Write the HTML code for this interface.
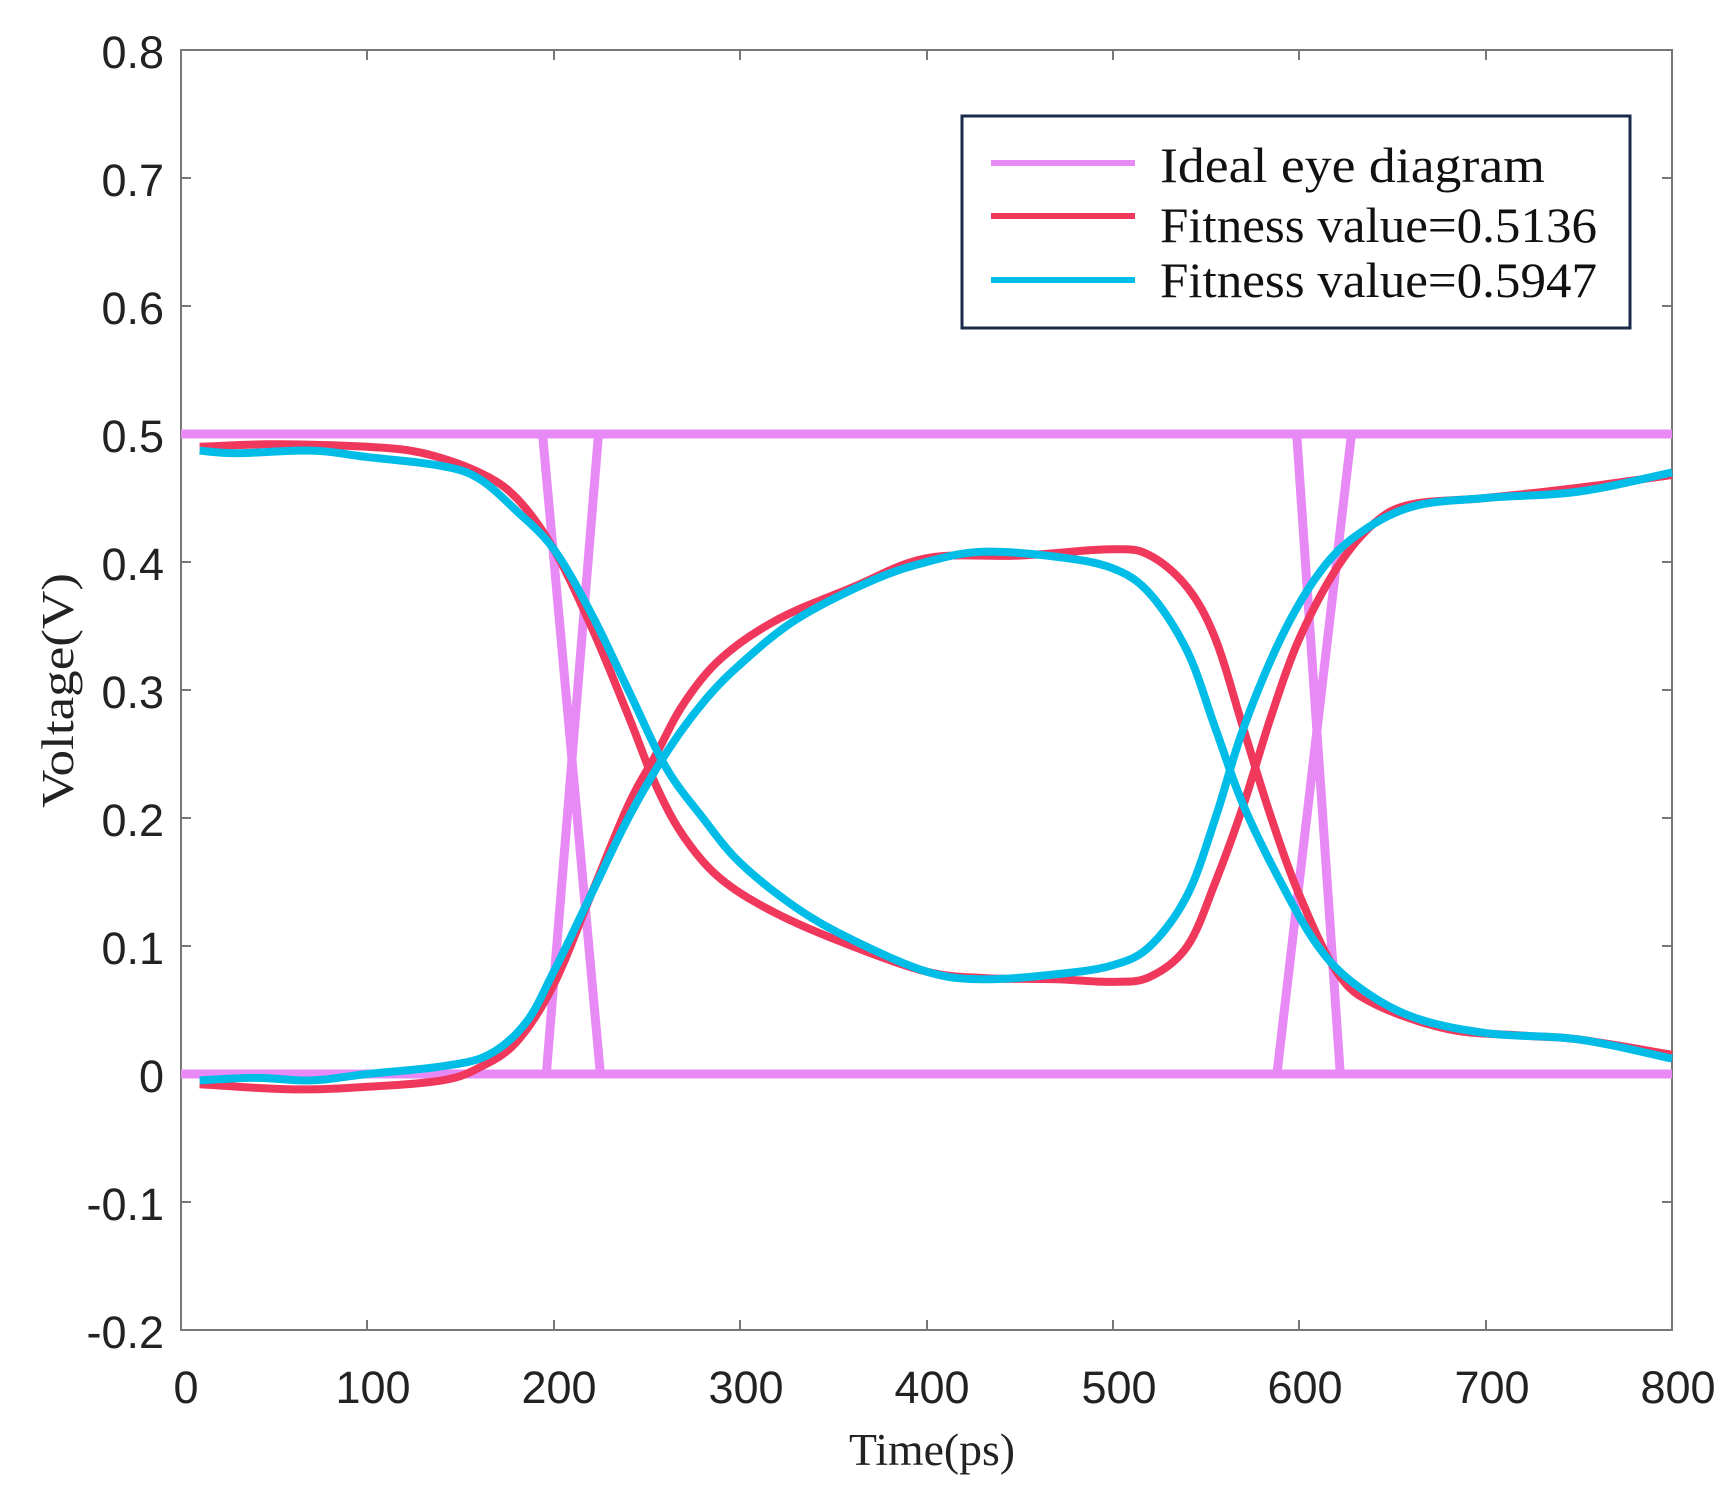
<!DOCTYPE html>
<html><head><meta charset="utf-8"><style>html,body{margin:0;padding:0;background:#fff}svg{display:block}</style></head>
<body>
<svg width="1729" height="1495" viewBox="0 0 1729 1495" xmlns="http://www.w3.org/2000/svg">
<rect width="1729" height="1495" fill="#fff"/>
<g font-family="Liberation Sans, sans-serif" font-size="45" fill="#222" text-anchor="end">
<text x="164" y="68">0.8</text><text x="164" y="196">0.7</text><text x="164" y="324">0.6</text>
<text x="164" y="452">0.5</text><text x="164" y="580">0.4</text><text x="164" y="708">0.3</text>
<text x="164" y="836">0.2</text><text x="164" y="964">0.1</text><text x="164" y="1092">0</text>
<text x="164" y="1220">-0.1</text><text x="164" y="1348">-0.2</text>
</g>
<g font-family="Liberation Sans, sans-serif" font-size="45" fill="#222" text-anchor="middle">
<text x="186" y="1403">0</text><text x="373" y="1403">100</text><text x="559" y="1403">200</text>
<text x="746" y="1403">300</text><text x="932" y="1403">400</text><text x="1119" y="1403">500</text>
<text x="1305" y="1403">600</text><text x="1492" y="1403">700</text><text x="1678" y="1403">800</text>
</g>
<text x="849" y="1465" font-family="Liberation Serif, serif" font-size="45" fill="#222" textLength="166" lengthAdjust="spacingAndGlyphs">Time(ps)</text>
<text transform="translate(73,808) rotate(-90)" font-family="Liberation Serif, serif" font-size="46" fill="#222" textLength="235" lengthAdjust="spacingAndGlyphs">Voltage(V)</text>
<g stroke="#777" stroke-width="2" fill="none">
<rect x="181" y="50" width="1491" height="1280"/>
<path d="M181 178h10M181 306h10M181 434h10M181 562h10M181 690h10M181 818h10M181 946h10M181 1074h10M181 1202h10
M1672 178h-10M1672 306h-10M1672 434h-10M1672 562h-10M1672 690h-10M1672 818h-10M1672 946h-10M1672 1074h-10M1672 1202h-10
M367 1330v-10M554 1330v-10M740 1330v-10M927 1330v-10M1113 1330v-10M1299 1330v-10M1486 1330v-10
M367 50v10M554 50v10M740 50v10M927 50v10M1113 50v10M1299 50v10M1486 50v10"/>
</g>
<g transform="translate(181,1074) scale(1.8638,-1280)" fill="none" stroke-linejoin="round" stroke-linecap="butt">
<g stroke="#e88af6" stroke-width="9">
<path vector-effect="non-scaling-stroke" d="M0 0.5H800M0 0H800M194 0.5L225 0M196 0L224 0.5M598.6 0.5L622 0M588 0L628 0.5"/>
</g>
<g stroke="#f0385c" stroke-width="8">
<polyline class="sm" vector-effect="non-scaling-stroke" points="10,0.49 50,0.492 100,0.49 130,0.485 160,0.47 180,0.45 200,0.41 220,0.35 240,0.28 255,0.225 270,0.185 290,0.152 320,0.125 360,0.1 400,0.08 430,0.075 470,0.074 500,0.072 520,0.076 540,0.1 555,0.15 570,0.21 585,0.28 600,0.34 620,0.395 640,0.43 660,0.445 700,0.45 750,0.458 800,0.468"/>
<polyline class="sm" vector-effect="non-scaling-stroke" points="10,-0.008 60,-0.012 100,-0.01 140,-0.005 160,0.005 180,0.025 200,0.07 220,0.14 240,0.21 255,0.25 270,0.29 290,0.325 320,0.355 360,0.38 400,0.403 450,0.405 500,0.41 520,0.405 540,0.38 555,0.34 570,0.27 585,0.2 600,0.14 620,0.08 640,0.055 680,0.035 720,0.03 750,0.027 800,0.015"/>
</g>
<g stroke="#00bde8" stroke-width="8">
<polyline class="sm" vector-effect="non-scaling-stroke" points="10,0.487 30,0.485 70,0.487 100,0.482 140,0.475 160,0.465 180,0.44 200,0.41 220,0.36 240,0.3 260,0.24 280,0.2 300,0.165 330,0.13 360,0.105 400,0.08 430,0.074 470,0.078 500,0.085 520,0.1 540,0.14 555,0.2 570,0.27 590,0.34 610,0.39 630,0.42 660,0.443 700,0.45 750,0.455 800,0.47"/>
<polyline class="sm" vector-effect="non-scaling-stroke" points="10,-0.005 40,-0.003 70,-0.005 100,0 140,0.006 165,0.015 185,0.04 200,0.08 220,0.14 240,0.2 260,0.25 280,0.29 300,0.32 330,0.355 370,0.385 400,0.4 430,0.408 470,0.404 500,0.395 520,0.375 540,0.33 555,0.27 570,0.21 590,0.15 610,0.1 630,0.07 660,0.045 700,0.032 750,0.027 800,0.012"/>
</g>
</g>
<rect x="962" y="116" width="668" height="212" fill="#fff" stroke="#1a2a4a" stroke-width="3"/>
<g stroke-width="6">
<line x1="991" y1="163" x2="1135" y2="163" stroke="#e88af6"/>
<line x1="991" y1="216" x2="1135" y2="216" stroke="#f0385c"/>
<line x1="991" y1="280" x2="1135" y2="280" stroke="#00bde8"/>
</g>
<g font-family="Liberation Serif, serif" font-size="50" fill="#111">
<text x="1160" y="182" textLength="385" lengthAdjust="spacingAndGlyphs">Ideal eye diagram</text>
<text x="1160" y="242" textLength="437" lengthAdjust="spacingAndGlyphs">Fitness value=0.5136</text>
<text x="1160" y="297" textLength="437" lengthAdjust="spacingAndGlyphs">Fitness value=0.5947</text>
</g>
</svg>
<script>
document.querySelectorAll('polyline.sm').forEach(function(pl){
  var p=pl.getAttribute('points').trim().split(/\s+/).map(function(s){return s.split(',').map(Number);});
  var out=[];
  for(var i=0;i<p.length-1;i++){
    var p0=p[Math.max(i-1,0)],p1=p[i],p2=p[i+1],p3=p[Math.min(i+2,p.length-1)];
    for(var k=0;k<10;k++){
      var t=k/10,t2=t*t,t3=t2*t;
      var f=function(a,b,c,d){return 0.5*((2*b)+(-a+c)*t+(2*a-5*b+4*c-d)*t2+(-a+3*b-3*c+d)*t3);};
      out.push(f(p0[0],p1[0],p2[0],p3[0])+','+f(p0[1],p1[1],p2[1],p3[1]));
    }
  }
  out.push(p[p.length-1].join(','));
  pl.setAttribute('points',out.join(' '));
});
</script>
</body></html>
